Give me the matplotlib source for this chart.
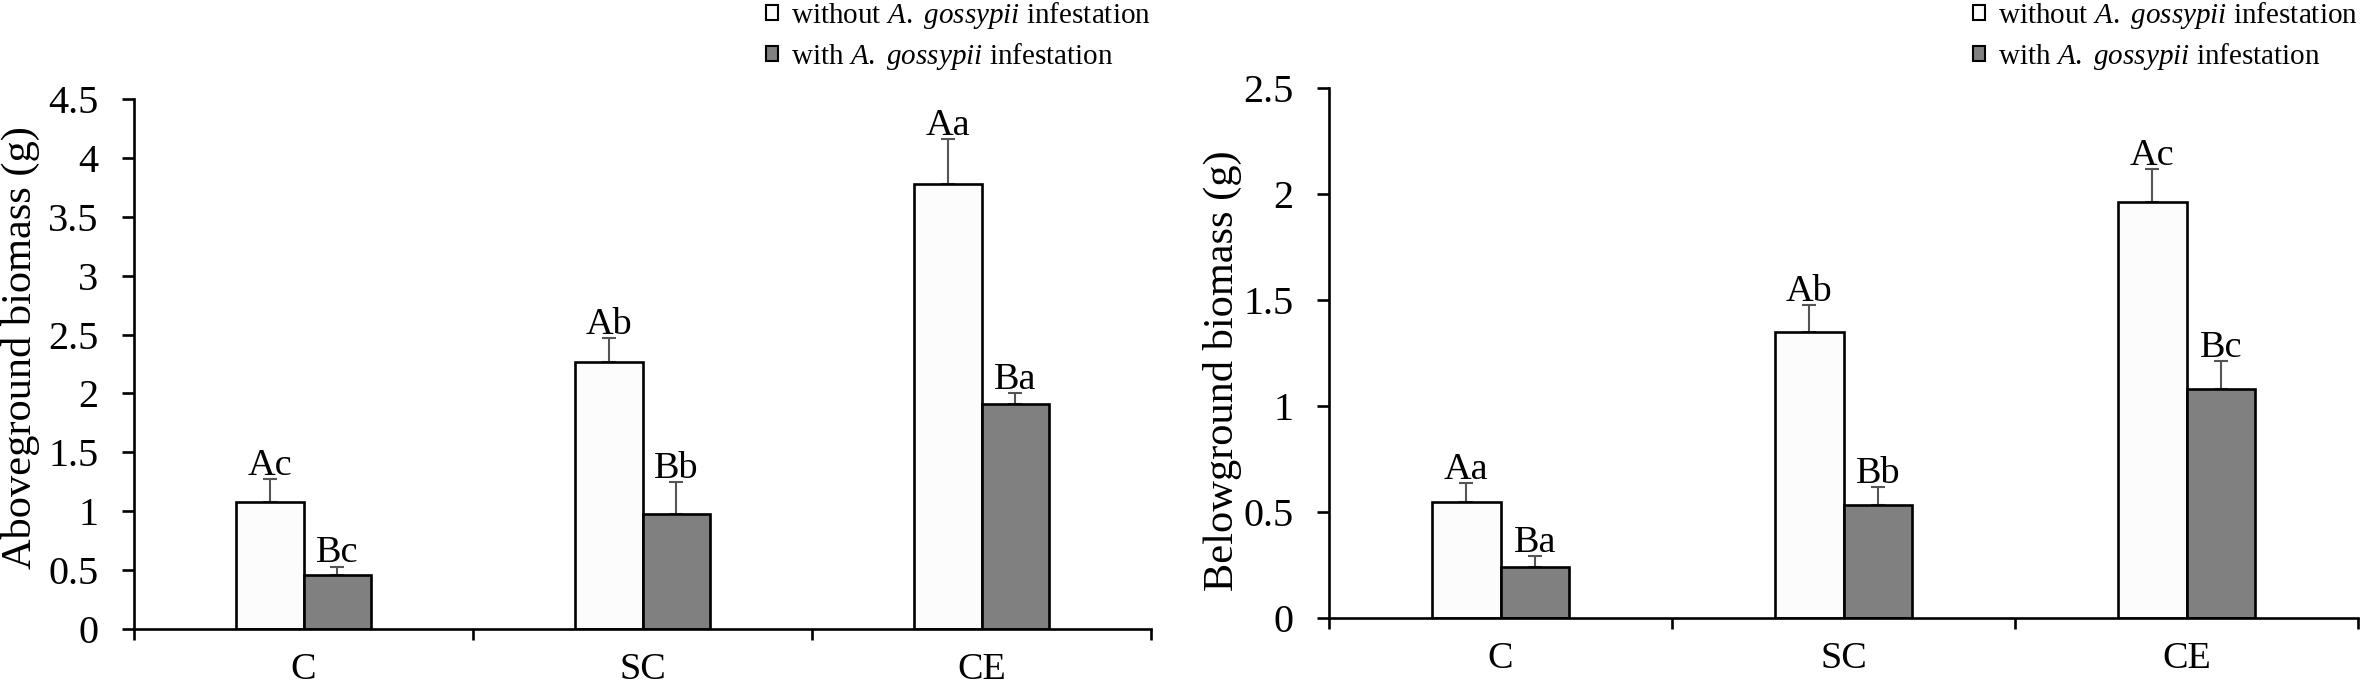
import numpy as np
import matplotlib
matplotlib.use("Agg")
import matplotlib.pyplot as plt
from matplotlib.patches import Patch

plt.rcParams['font.family'] = ['Liberation Serif', 'DejaVu Serif']
plt.rcParams['mathtext.fontset'] = 'custom'
plt.rcParams['mathtext.rm'] = 'Liberation Serif'
plt.rcParams['mathtext.it'] = 'Liberation Serif:italic'

# Data
treatments = ['C', 'SC', 'CE']
series_names = [r'without $\mathit{A.\ gossypii}$ infestation',
                r'with $\mathit{A.\ gossypii}$ infestation']

above_without = [1.08, 2.27, 3.78]
above_without_se = [0.19, 0.20, 0.38]
above_with = [0.46, 0.98, 1.91]
above_with_se = [0.07, 0.27, 0.09]
above_letters_without = ['Ac', 'Ab', 'Aa']
above_letters_with = ['Bc', 'Bb', 'Ba']

below_without = [0.545, 1.35, 1.96]
below_without_se = [0.09, 0.125, 0.155]
below_with = [0.24, 0.53, 1.08]
below_with_se = [0.05, 0.085, 0.13]
below_letters_without = ['Aa', 'Ab', 'Ac']
below_letters_with = ['Ba', 'Bb', 'Bc']

white = '#fcfcfc'
gray = '#808080'
err_color = '#555555'


def draw_panel(ax, v1, e1, v2, e2, l1, l2, ymax, ylabel):
    x = np.arange(len(treatments)) + 0.5
    w = 0.2
    for xs, vals, errs, letters, col in [(x - w / 2, v1, e1, l1, white),
                                          (x + w / 2, v2, e2, l2, gray)]:
        ax.bar(xs, vals, width=w, color=col, edgecolor='black', linewidth=1.9, zorder=2)
        ax.errorbar(xs, vals, yerr=[np.zeros(len(vals)), errs], fmt='none',
                    ecolor=err_color, elinewidth=1.5, capsize=4.7, capthick=1.5, zorder=1)
        for xi, v, e, t in zip(xs, vals, errs, letters):
            ax.annotate(t, (xi, v + e), xytext=(0, 3), textcoords='offset points',
                        ha='center', va='baseline', fontsize=27.5)
    ax.set_xlim(0, 3)
    ax.set_ylim(0, ymax)
    ax.set_yticks(np.arange(0, ymax + 0.01, 0.5))
    ax.set_yticklabels([f'{t:g}' for t in np.arange(0, ymax + 0.01, 0.5)])
    ax.set_xticks([0, 1, 2, 3])
    ax.set_xticklabels([])
    ax.set_xticks(x, minor=True)
    ax.set_xticklabels(treatments, minor=True)
    ax.tick_params(axis='x', which='minor', length=0, pad=17, labelsize=27.5)
    ax.tick_params(axis='x', which='major', length=8, width=1.9, direction='out')
    ax.tick_params(axis='y', length=8.5, width=1.9, direction='out', pad=17, labelsize=29)
    for s in ['top', 'right']:
        ax.spines[s].set_visible(False)
    for s in ['left', 'bottom']:
        ax.spines[s].set_linewidth(1.9)
    ax.set_ylabel(ylabel, fontsize=30.5)


fig = plt.figure(figsize=(23.62, 6.94), dpi=100)
ax1 = fig.add_axes([134 / 2362, 65 / 694, 1017 / 2362, 530 / 694])
ax2 = fig.add_axes([1329 / 2362, 76.3 / 694, 1029 / 2362, 530 / 694])

draw_panel(ax1, above_without, above_without_se, above_with, above_with_se,
           above_letters_without, above_letters_with, 4.5, 'Aboveground biomass (g)')
draw_panel(ax2, below_without, below_without_se, below_with, below_with_se,
           below_letters_without, below_letters_with, 2.5, 'Belowground biomass (g)')
ax1.yaxis.set_label_coords(-0.092, 0.531)
ax2.yaxis.set_label_coords(-0.0845, 0.466)

handles = [Patch(facecolor=white, edgecolor='black', linewidth=1.5),
           Patch(facecolor=gray, edgecolor='black', linewidth=1.5)]
for x0 in [766 / 2362, 1973 / 2362]:
    fig.legend(handles, series_names, loc='upper left', bbox_to_anchor=(x0, 1.0),
               frameon=False, fontsize=21, handlelength=0.42, handleheight=0.42,
               handletextpad=0.45, labelspacing=0.35, borderpad=0, borderaxespad=0)

fig.savefig('out.png', dpi=100)
